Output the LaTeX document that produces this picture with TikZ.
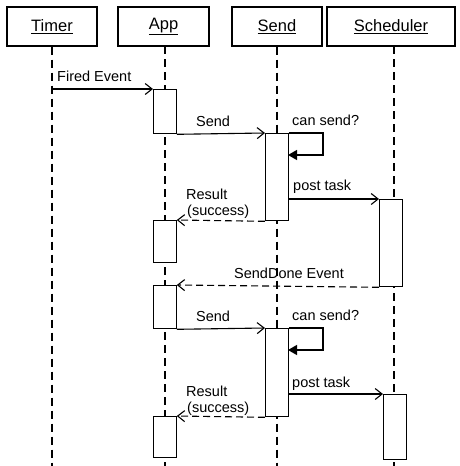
\documentclass[tikz,border=0pt]{standalone}
\usepackage{fontspec}
\setmainfont{Liberation Sans}
\usetikzlibrary{arrows.meta}
\begin{document}
\begin{tikzpicture}[x=1pt,y=-1pt,
  hdr/.style={draw,line width=1.1pt,inner sep=0pt,minimum height=39pt,font=\fontsize{16.5}{18}\selectfont},
  lifeline/.style={line width=1.1pt,dash pattern=on 8pt off 5pt},
  act/.style={draw,fill=white,line width=1.3pt,inner sep=0pt,minimum width=22.5pt,anchor=north west},
  msg/.style={line width=1.1pt,-{Straight Barb[length=7pt,width=11pt,line width=1.1pt]}},
  ret/.style={line width=1.1pt,dash pattern=on 7pt off 4pt,-{Straight Barb[length=7pt,width=11pt,line width=1.1pt]}},
  self/.style={line width=1.3pt,-{Triangle[length=9pt,width=10pt]}},
  lbl/.style={anchor=base west,inner sep=0pt,font=\fontsize{14.5}{16}\selectfont}]
\useasboundingbox (0,0) rectangle (459,466);
% headers
\node[hdr,minimum width=90pt] (timer) at (52,26.5) {\underline{Timer}};
\node[hdr,minimum width=91pt] (app) at (163.5,26.5) {\underline{App}};
\node[hdr,minimum width=90pt] (send) at (277,26.5) {\underline{Send}};
\node[hdr,minimum width=128pt] (sched) at (391,26.5) {\underline{Scheduler}};
% lifeline ends
\coordinate (timerEnd) at (52,466);
\coordinate (appEnd) at (165,466);
\coordinate (sendEnd) at (277,466);
\coordinate (schedEnd) at (394,466);
\draw[lifeline] (timer.south) -- (timerEnd);
\draw[lifeline] (165,46) -- (appEnd);
\draw[lifeline] (send.south) -- (sendEnd);
\draw[lifeline] (394,46) -- (schedEnd);
% activations
\node[act,minimum height=44pt] (a1) at (153,89) {};
\node[act,minimum height=42pt] (a2) at (153,220) {};
\node[act,minimum height=43pt] (a3) at (153,285) {};
\node[act,minimum height=41pt] (a4) at (153,416) {};
\node[act,minimum height=87pt] (s1) at (265,133) {};
\node[act,minimum height=88pt] (s2) at (265,328) {};
\node[act,minimum height=87pt] (c1) at (379,199) {};
\node[act,minimum height=65pt] (c2) at (383,394) {};
% coordinates
\coordinate (fireStart) at (52,89);
\coordinate (loop1a) at (323,133);
\coordinate (loop1b) at (323,155);
\coordinate (loop1c) at (288,155);
\coordinate (post1) at (288,199);
\coordinate (loop2a) at (323,328);
\coordinate (loop2b) at (323,350);
\coordinate (loop2c) at (288,350);
\coordinate (post2) at (288,394);
% messages
\draw[msg] (fireStart) -- (a1.north west);
\node[lbl] (l1) at (57,81) {Fired Event};
\draw[msg] (a1.south east) -- (s1.north west);
\node[lbl] (l2) at (196,126) {Send};
\draw[self] (s1.north east) -- (loop1a) -- (loop1b) -- (loop1c);
\node[lbl] (l3) at (292,125) {can send?};
\draw[msg] (post1) -- (c1.north west);
\node[lbl] (l4) at (293,190) {post task};
\draw[ret] (s1.south west) -- (a2.north east);
\node[lbl] (l5) at (186,199) {Result};
\node[lbl] (l6) at (187,215) {(success)};
\draw[ret] (c1.south west) -- (a3.north east);
\node[lbl] (l7) at (234,278) {SendDone Event};
\draw[msg] (a3.south east) -- (s2.north west);
\node[lbl] (l8) at (196,321) {Send};
\draw[self] (s2.north east) -- (loop2a) -- (loop2b) -- (loop2c);
\node[lbl] (l9) at (292,320) {can send?};
\draw[msg] (post2) -- (c2.north west);
\node[lbl] (l10) at (292,387) {post task};
\draw[ret] (s2.south west) -- (a4.north east);
\node[lbl] (l11) at (186,396) {Result};
\node[lbl] (l12) at (187,412) {(success)};
\end{tikzpicture}
\end{document}
